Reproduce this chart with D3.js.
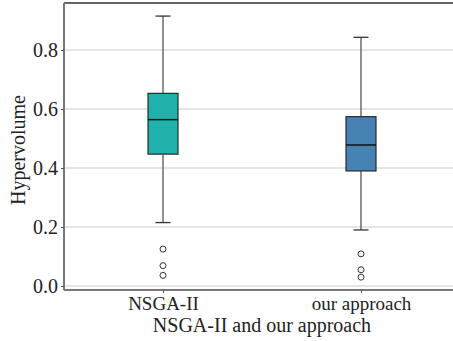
<!DOCTYPE html>
<html><head><meta charset="utf-8">
<script src="https://cdn.jsdelivr.net/npm/d3@7"></script>
<style>body{margin:0;background:#fff}svg{display:block}</style>
</head><body>
<svg id="c" width="453" height="341"></svg>
<script>
const categories = ["NSGA-II", "our approach"];
const whiskerLow = [0.215, 0.19];
const q1 = [0.447, 0.39];
const median = [0.564, 0.478];
const q3 = [0.653, 0.574];
const whiskerHigh = [0.915, 0.843];
const outliers = [[0.125, 0.069, 0.036], [0.109, 0.055, 0.030]];
const colors = ["#20b2aa", "#4682b4"];
const yTicks = [0.0, 0.2, 0.4, 0.6, 0.8];

(function () {
const svg = d3.select("#c");
const font = "'Liberation Serif','Times New Roman',serif";
const pLeft = 64, pRight = 453, pTop = 3, pBottom = 290;
const y = d3.scaleLinear().domain([0, 0.2]).range([286, 227]);
const x = d3.scalePoint().domain(categories).range([pLeft, 460]).padding(0.5);

// grid
svg.append("g").selectAll("line").data(yTicks).join("line")
  .attr("x1", pLeft).attr("x2", pRight)
  .attr("y1", d => y(d)).attr("y2", d => y(d))
  .attr("stroke", "#dcdcdc").attr("stroke-width", 1.5);

// top border
svg.append("line").attr("x1", pLeft).attr("x2", pRight).attr("y1", pTop).attr("y2", pTop)
  .attr("stroke", "#333").attr("stroke-width", 1.5);

// axes
const ya = svg.append("g").attr("transform", `translate(${pLeft},0)`)
  .call(d3.axisLeft(y).tickValues(yTicks).tickFormat(d3.format(".1f")).tickSize(3).tickPadding(3));
ya.select(".domain").attr("d", `M0,${pTop}V${pBottom}`).attr("stroke", "#777").attr("stroke-width", 2);
ya.selectAll(".tick line").attr("stroke", "#555");
ya.selectAll("text").attr("font-family", font).attr("font-size", 20).attr("fill", "#222");

const xa = svg.append("g").attr("transform", `translate(0,${pBottom})`)
  .call(d3.axisBottom(x).tickSize(3).tickPadding(4));
xa.select(".domain").attr("d", `M${pLeft},0H${pRight}`).attr("stroke", "#777").attr("stroke-width", 2);
xa.selectAll(".tick line").attr("stroke", "#555");
xa.selectAll("text").attr("font-family", font).attr("font-size", 19).attr("fill", "#222");

// boxes
const bw = 30, cw = 15;
categories.forEach((c, i) => {
  const cx = x(c);
  const g = svg.append("g");
  g.append("line").attr("x1", cx).attr("x2", cx).attr("y1", y(whiskerHigh[i])).attr("y2", y(q3[i]))
    .attr("stroke", "#555").attr("stroke-width", 1.3);
  g.append("line").attr("x1", cx).attr("x2", cx).attr("y1", y(q1[i])).attr("y2", y(whiskerLow[i]))
    .attr("stroke", "#555").attr("stroke-width", 1.3);
  [whiskerHigh[i], whiskerLow[i]].forEach(v => g.append("line")
    .attr("x1", cx - cw / 2).attr("x2", cx + cw / 2).attr("y1", y(v)).attr("y2", y(v))
    .attr("stroke", "#333").attr("stroke-width", 1.3));
  g.append("rect").attr("x", cx - bw / 2).attr("width", bw)
    .attr("y", y(q3[i])).attr("height", y(q1[i]) - y(q3[i]))
    .attr("fill", colors[i]).attr("stroke", "#2a2a2a").attr("stroke-width", 1.2);
  g.append("line").attr("x1", cx - bw / 2).attr("x2", cx + bw / 2)
    .attr("y1", y(median[i])).attr("y2", y(median[i]))
    .attr("stroke", "#111").attr("stroke-width", 1.5);
  g.selectAll("circle").data(outliers[i]).join("circle")
    .attr("cx", cx).attr("cy", d => y(d)).attr("r", 3)
    .attr("fill", "none").attr("stroke", "#333").attr("stroke-width", 1);
});

// titles
svg.append("text").attr("x", 262).attr("y", 332).attr("text-anchor", "middle")
  .attr("font-family", font).attr("font-size", 20).attr("fill", "#222").text("NSGA-II and our approach");
svg.append("text").attr("transform", "translate(25,150) rotate(-90)").attr("text-anchor", "middle")
  .attr("font-family", font).attr("font-size", 20).attr("fill", "#222").text("Hypervolume");
})();
</script>
</body></html>
